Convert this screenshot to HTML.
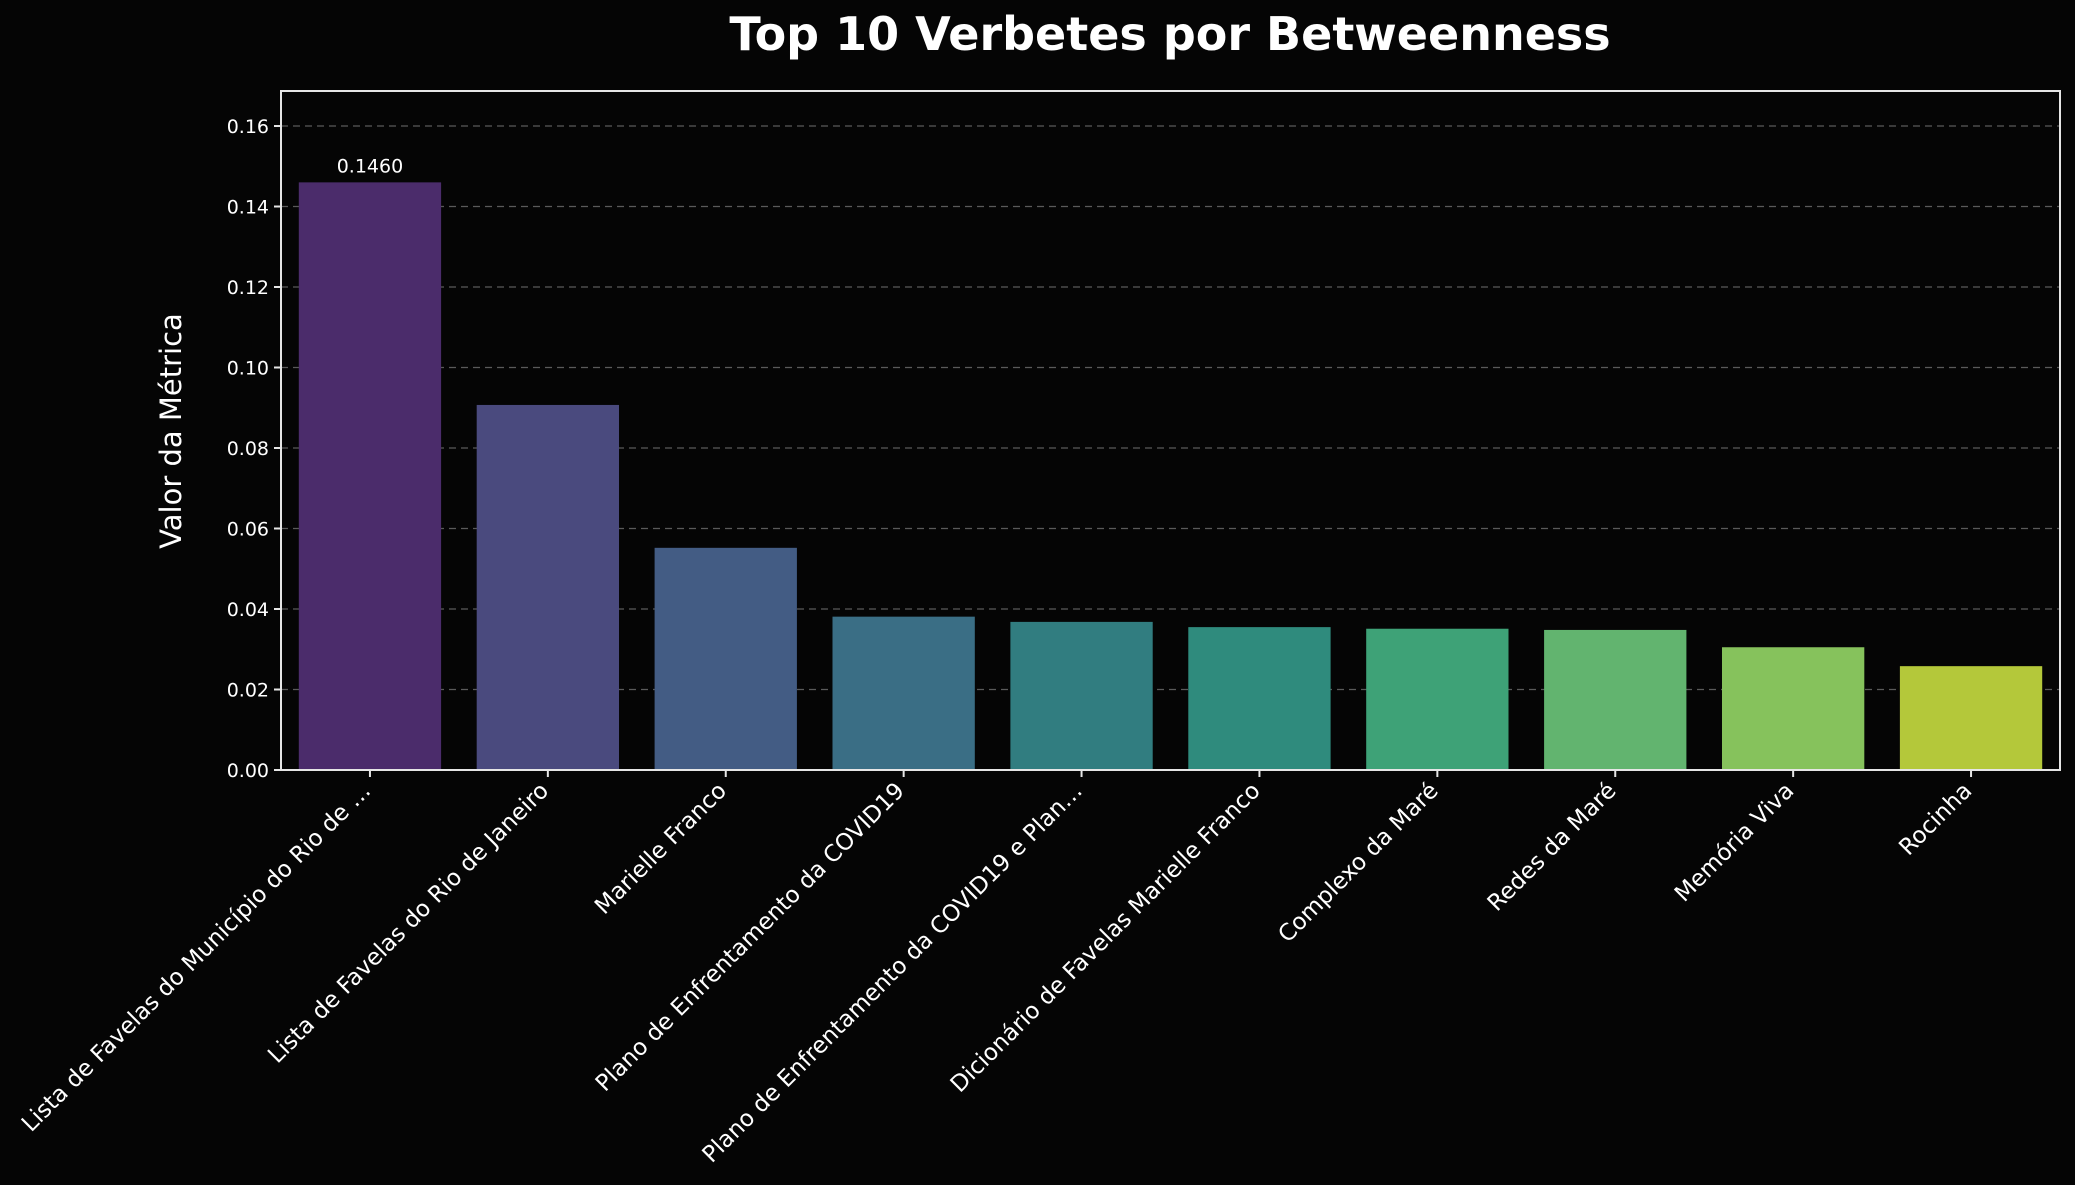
<!DOCTYPE html>
<html><head><meta charset="utf-8"><style>
html,body{margin:0;padding:0;background:#050505;}
svg{display:block;font-family:"DejaVu Sans","Liberation Sans",sans-serif;}
</style></head><body>
<svg id="chart" width="2075" height="1185" viewBox="0 0 2075 1185">
<rect width="2075" height="1185" fill="#050505"/>
<text x="1170" y="50" text-anchor="middle" fill="#fff" font-size="46" font-weight="bold">Top 10 Verbetes por Betweenness</text>
<text transform="translate(181,431) rotate(-90)" text-anchor="middle" fill="#fff" font-size="29">Valor da Métrica</text>
<g id="grid"></g><g id="bars"></g><g id="yticks"></g><g id="xticks"></g>
<rect x="281" y="91" width="1779" height="679" fill="none" stroke="#e6e6e6" stroke-width="2"/>
</svg>
<script>
const categories = ["Lista de Favelas do Município do Rio de …","Lista de Favelas do Rio de Janeiro","Marielle Franco","Plano de Enfrentamento da COVID19","Plano de Enfrentamento da COVID19 e Plan…","Dicionário de Favelas Marielle Franco","Complexo da Maré","Redes da Maré","Memória Viva","Rocinha"];
const values = [0.1460,0.0907,0.0552,0.0381,0.0368,0.0355,0.0351,0.0348,0.0305,0.0258];
const colors = ["#4b2c6b","#4a4a7e","#435c84","#3a6e85","#317d80","#2f8b7d","#3ea277","#62b46f","#86c25c","#b4c83a"];
const yTicks = [0,0.02,0.04,0.06,0.08,0.10,0.12,0.14,0.16];
const ns="http://www.w3.org/2000/svg";
const L=281,R=2060,T=91,B=770,YMAX=0.1687;
const y=v=>B-v/YMAX*(B-T);
const step=(R-L)/categories.length;
const x=i=>L+step*(i+0.5);
function mk(t,a,p){const e=document.createElementNS(ns,t);for(const k in a)e.setAttribute(k,a[k]);p.appendChild(e);return e;}
const grid=document.getElementById('grid'),bars=document.getElementById('bars'),yt=document.getElementById('yticks'),xt=document.getElementById('xticks');
yTicks.forEach(v=>{
  if(v>0){const g=mk('line',{x1:L,x2:R,y1:y(v),y2:y(v),stroke:'#777','stroke-width':1.3,'stroke-dasharray':'7,5',opacity:0.75},grid);
  
  }
  const tk=mk('line',{x1:L-7,x2:L,y1:y(v),y2:y(v),stroke:'#e6e6e6','stroke-width':2},yt);
  
  
  const t=mk('text',{x:L-12,y:y(v)+7,'text-anchor':'end',fill:'#fff','font-size':19},yt);
  t.textContent=v.toFixed(2);
  
  
});
values.forEach((v,i)=>{
  const w=step*0.8;
  const r=mk('rect',{x:x(i)-w/2,y:y(v),width:w,height:B-y(v),fill:colors[i]},bars);
  
  
  const tk=mk('line',{x1:x(i),x2:x(i),y1:B,y2:B+7,stroke:'#e6e6e6','stroke-width':2},xt);
  
  
  const t=mk('text',{transform:`translate(${x(i)+2},${B+22}) rotate(-45)`,'text-anchor':'end',fill:'#fff','font-size':23},xt);
  t.textContent=categories[i];
  
  
});
const lb=mk('text',{x:x(0),y:y(values[0])-10,'text-anchor':'middle',fill:'#fff','font-size':19},bars);
lb.textContent=values[0].toFixed(4);


</script>
</body></html>
